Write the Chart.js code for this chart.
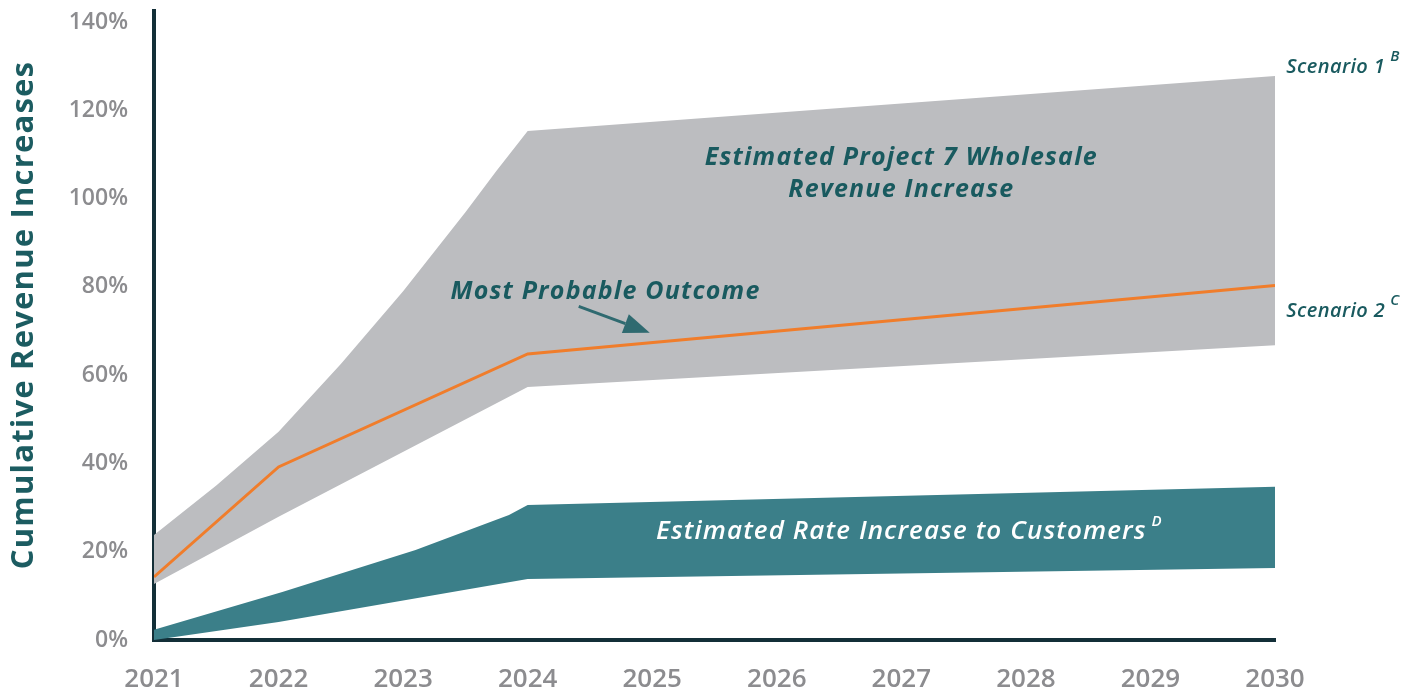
<!DOCTYPE html>
<html lang="en">
<head>
<meta charset="UTF-8">
<title>Cumulative Revenue Increases</title>
<script src="https://cdn.jsdelivr.net/npm/chart.js@4"></script>
<style>
  html, body { margin: 0; padding: 0; background: #fff; }
  #wrap { width: 1416px; height: 692px; }
</style>
</head>
<body>
<div id="wrap"><canvas id="chart" width="1416" height="692"></canvas></div>
<script>
// Scenario 1 - top edge of the wholesale band
const scen1Years  = [2021, 2021.5, 2022, 2022.5, 2023, 2023.5, 2023.75, 2024, 2030];
const scen1Values = [23.8, 35.0, 47.2, 62.5, 79.0, 96.9, 106.3, 115.3, 127.8];
// Scenario 2 - bottom edge of the wholesale band
const scen2Years  = [2021, 2022, 2024, 2030];
const scen2Values = [12.7, 27.9, 57.3, 66.8];
// most probable outcome (orange line)
const probYears  = [2021, 2022, 2024, 2030];
const probValues = [14.3, 39.2, 64.8, 80.3];
// estimated rate increase to customers (teal band)
const rateHighYears  = [2021, 2022.03, 2023.1, 2023.85, 2024, 2030];
const rateHighValues = [2.3, 10.9, 20.4, 28.3, 30.6, 34.7];
const rateLowYears  = [2021, 2022, 2024, 2030];
const rateLowValues = [0, 4.1, 13.8, 16.3];

const yTicks = [0, 20, 40, 60, 80, 100, 120, 140];
const yTitle = 'Cumulative Revenue Increases';

const TEAL_TXT = '#195a5f';
const GREY_TXT = '#8c8c8f';
const AXIS = '#132f38';

const pts = (xs, ys) => xs.map((x, i) => ({ x: x, y: ys[i] }));

// text notes, positioned in data units
const notes = [
  { text: 'Estimated Project 7 Wholesale', x: 2027, y: 109.2, align: 'center', font: 'italic 700 25px "Open Sans"', ls: 1.2, color: TEAL_TXT },
  { text: 'Revenue Increase', x: 2027, y: 101.9, align: 'center', font: 'italic 700 25px "Open Sans"', ls: 1.2, color: TEAL_TXT },
  { text: 'Most Probable Outcome', x: 2023.38, y: 78.8, align: 'left', font: 'italic 700 25px "Open Sans"', ls: 1.2, color: TEAL_TXT },
  { text: 'Scenario 1', sup: 'B', x: 2030.09, y: 129.8, align: 'left', font: 'italic 600 20px "Open Sans"', ls: 0.4, supFont: 'italic 600 15px "Open Sans"', color: TEAL_TXT },
  { text: 'Scenario 2', sup: 'C', x: 2030.09, y: 74.5, align: 'left', font: 'italic 600 20px "Open Sans"', ls: 0.4, supFont: 'italic 600 15px "Open Sans"', color: TEAL_TXT },
  { text: 'Estimated Rate Increase to Customers', sup: 'D', x: 2027, y: 24.5, align: 'center', font: 'italic 600 26px "Open Sans"', ls: 1.1, supFont: 'italic 600 15px "Open Sans"', color: '#ffffff' }
];
const arrow = { from: [2024.41, 75.6], to: [2024.98, 69.6], color: '#2f6a70' };

const notesPlugin = {
  id: 'notes',
  afterDatasetsDraw(chart) {
    const { ctx, scales: { x, y } } = chart;
    ctx.save();
    ctx.textBaseline = 'middle';
    notes.forEach(n => {
      const px = x.getPixelForValue(n.x);
      const py = y.getPixelForValue(n.y);
      ctx.font = n.font;
      ctx.letterSpacing = n.ls + 'px';
      ctx.fillStyle = n.color;
      ctx.textAlign = n.align;
      ctx.fillText(n.text, px, py);
      if (n.sup) {
        const w = ctx.measureText(n.text).width;
        const endX = n.align === 'center' ? px + w / 2 : px + w;
        ctx.font = n.supFont;
        ctx.letterSpacing = '0px';
        ctx.textAlign = 'left';
        ctx.fillText(n.sup, endX + 5, py - 10);
      }
    });
    ctx.letterSpacing = '0px';

    // arrow pointing at the orange line
    const x1 = x.getPixelForValue(arrow.from[0]), y1 = y.getPixelForValue(arrow.from[1]);
    const x2 = x.getPixelForValue(arrow.to[0]), y2 = y.getPixelForValue(arrow.to[1]);
    const ang = Math.atan2(y2 - y1, x2 - x1);
    const headLen = 26, headW = 10;
    const bx = x2 - headLen * Math.cos(ang), by = y2 - headLen * Math.sin(ang);
    ctx.strokeStyle = arrow.color;
    ctx.fillStyle = arrow.color;
    ctx.lineWidth = 3;
    ctx.beginPath();
    ctx.moveTo(x1, y1);
    ctx.lineTo(bx, by);
    ctx.stroke();
    ctx.beginPath();
    ctx.moveTo(x2, y2);
    ctx.lineTo(bx + headW * Math.sin(ang), by - headW * Math.cos(ang));
    ctx.lineTo(bx - headW * Math.sin(ang), by + headW * Math.cos(ang));
    ctx.closePath();
    ctx.fill();

    // y axis title
    ctx.translate(24, 315);
    ctx.rotate(-Math.PI / 2);
    ctx.font = '700 31px "Open Sans"';
    ctx.letterSpacing = '1.2px';
    ctx.fillStyle = '#1c5c61';
    ctx.textAlign = 'center';
    ctx.fillText(yTitle, 0, 0);
    ctx.restore();
  }
};

const band = { pointRadius: 0, borderWidth: 0, borderColor: 'transparent', tension: 0 };

new Chart(document.getElementById('chart'), {
  type: 'line',
  data: {
    datasets: [
      { label: 'Most Probable Outcome', data: pts(probYears, probValues), borderColor: '#f07d2b', borderWidth: 3, pointRadius: 0, fill: false, tension: 0 },
      Object.assign({ label: 'Scenario 1', data: pts(scen1Years, scen1Values), fill: '+1', backgroundColor: '#bcbdc0' }, band),
      Object.assign({ label: 'Scenario 2', data: pts(scen2Years, scen2Values), fill: false }, band),
      Object.assign({ label: 'Rate high', data: pts(rateHighYears, rateHighValues), fill: '+1', backgroundColor: '#3b7f89' }, band),
      Object.assign({ label: 'Rate low', data: pts(rateLowYears, rateLowValues), fill: false }, band)
    ]
  },
  options: {
    responsive: false,
    animation: false,
    layout: { autoPadding: false, padding: { left: 0, top: 11, right: 141, bottom: 0 } },
    plugins: { legend: { display: false }, tooltip: { enabled: false } },
    scales: {
      x: {
        type: 'linear',
        min: 2021,
        max: 2030,
        afterFit: s => { s.height = 52; s.paddingLeft = 0; s.paddingRight = 0; },
        grid: { display: false, drawTicks: false },
        border: { display: true, color: AXIS, width: 4 },
        ticks: {
          stepSize: 1,
          padding: 24,
          color: GREY_TXT,
          font: { family: 'Open Sans', size: 26, weight: '600' },
          callback: v => String(v)
        }
      },
      y: {
        min: 0,
        max: 142.5,
        afterFit: s => { s.width = 154; s.paddingTop = 0; s.paddingBottom = 0; },
        afterBuildTicks: s => { s.ticks = yTicks.map(v => ({ value: v })); },
        grid: { display: false, drawTicks: false },
        border: { display: true, color: AXIS, width: 4 },
        ticks: {
          padding: 26,
          color: GREY_TXT,
          font: { family: 'Open Sans', size: 23, weight: '600' },
          callback: v => v + '%'
        }
      }
    }
  },
  plugins: [notesPlugin]
});
</script>
</body>
</html>
